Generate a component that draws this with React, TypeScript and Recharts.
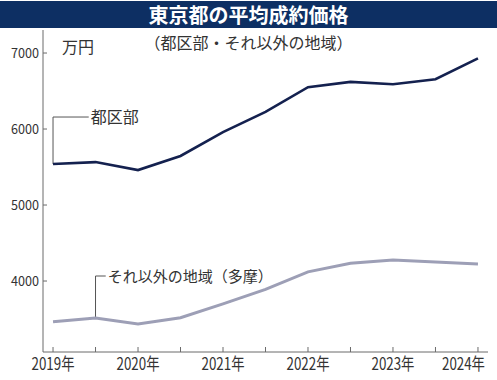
import React from 'react';
import { LineChart, Line, XAxis, YAxis, ReferenceLine, ReferenceDot } from 'recharts';

const periods = [2019, 2019.5, 2020, 2020.5, 2021, 2021.5, 2022, 2022.5, 2023, 2023.5, 2024];
const wardValues = [5540, 5565, 5460, 5645, 5960, 6225, 6550, 6620, 6590, 6655, 6930];
const otherValues = [3465, 3513, 3434, 3517, 3700, 3890, 4120, 4233, 4276, 4250, 4224];
const xTicks = [2019, 2019.5, 2020, 2020.5, 2021, 2021.5, 2022, 2022.5, 2023, 2023.5, 2024];
const yTicks = [4000, 5000, 6000, 7000];
const title = '東京都の平均成約価格';
const subtitle = '（都区部・それ以外の地域）';
const unitLabel = '万円';
const wardLabel = '都区部';
const otherLabel = 'それ以外の地域（多摩）';

const data = periods.map((p, i) => ({ period: p, ward: wardValues[i], other: otherValues[i] }));

const FONT = '"Noto Sans CJK JP", "Noto Sans", sans-serif';
const AXIS = '#6b6b6b';
const NAVY = '#14214f';
const LAVENDER = '#9d9fb6';

const XTick = (props: any) => {
  const { x, y, payload } = props;
  const v = payload.value as number;
  const isYear = Number.isInteger(v);
  const last = v === 2024;
  return (
    <g>
      <line x1={x} x2={x} y1={y} y2={y - 5} stroke={AXIS} strokeWidth={1} />
      {isYear && (
        <text
          x={last ? x + 7 : x}
          y={y + 18}
          textAnchor={last ? 'end' : 'middle'}
          fontSize={17}
          fontFamily={FONT}
          fill="#333"
          textLength={43}
          lengthAdjust="spacingAndGlyphs"
        >
          {`${v}年`}
        </text>
      )}
    </g>
  );
};

const YTick = (props: any) => {
  const { x, y, payload } = props;
  return (
    <g>
      <line x1={x} x2={x + 4} y1={y} y2={y} stroke={AXIS} strokeWidth={1} />
      <text
        x={x - 4}
        y={y + 5}
        textAnchor="end"
        fontSize={14}
        fontFamily={FONT}
        fill="#333"
        textLength={28}
        lengthAdjust="spacingAndGlyphs"
      >
        {payload.value}
      </text>
    </g>
  );
};

const labelShape = (text: string, size: number, dy: number) => (p: any) => (
  <text x={p.cx + 2} y={p.cy + dy} fontSize={size} fontFamily={FONT} fill="#333">
    {text}
  </text>
);

export default function App() {
  return (
    <div style={{ position: 'absolute', left: 0, top: 0, width: 497, height: 380, background: '#fff', overflow: 'hidden' }}>
      <div
        style={{
          position: 'absolute',
          left: 0,
          top: 1,
          width: 497,
          height: 27,
          background: '#0d2f63',
          color: '#fff',
          fontFamily: FONT,
          fontWeight: 700,
          fontSize: 20,
          lineHeight: '27px',
          textAlign: 'center',
        }}
      >
        {title}
      </div>
      <div
        style={{
          position: 'absolute',
          left: 0,
          top: 32,
          width: 497,
          textAlign: 'center',
          fontFamily: FONT,
          fontSize: 16,
          lineHeight: '20px',
          color: '#333',
        }}
      >
        {subtitle}
      </div>
      <div
        style={{
          position: 'absolute',
          left: 62,
          top: 36,
          fontFamily: FONT,
          fontSize: 16,
          lineHeight: '20px',
          color: '#333',
        }}
      >
        {unitLabel}
      </div>
      <div style={{ position: 'absolute', left: 0, top: 0 }}>
        <LineChart width={497} height={380} data={data} margin={{ top: 30, right: 9, bottom: 0, left: 0 }}>
          <XAxis
            dataKey="period"
            type="number"
            domain={[2018.882, 2024.118]}
            ticks={xTicks}
            interval={0}
            allowDataOverflow
            tickSize={0}
            tickMargin={0}
            tickLine={false}
            axisLine={{ stroke: AXIS, strokeWidth: 1 }}
            tick={<XTick />}
            height={28}
          />
          <YAxis
            type="number"
            domain={[3066, 7303]}
            ticks={yTicks}
            interval={0}
            allowDataOverflow
            width={43}
            tickSize={0}
            tickMargin={0}
            tickLine={false}
            axisLine={{ stroke: AXIS, strokeWidth: 1 }}
            tick={<YTick />}
          />
          <ReferenceLine
            segment={[{ x: 2019, y: 5540 }, { x: 2019, y: 6158 }]}
            stroke="#555"
            strokeWidth={1}
          />
          <ReferenceLine
            segment={[{ x: 2019, y: 6158 }, { x: 2019.42, y: 6158 }]}
            stroke="#555"
            strokeWidth={1}
          />
          <ReferenceLine
            segment={[{ x: 2019.5, y: 3513 }, { x: 2019.5, y: 4066 }]}
            stroke="#555"
            strokeWidth={1}
          />
          <ReferenceLine
            segment={[{ x: 2019.5, y: 4066 }, { x: 2019.62, y: 4066 }]}
            stroke="#555"
            strokeWidth={1}
          />
          <ReferenceDot x={2019.42} y={6158} r={0} shape={labelShape(wardLabel, 16, 6)} />
          <ReferenceDot x={2019.62} y={4066} r={0} shape={labelShape(otherLabel, 15, 6)} />
          <Line
            type="linear"
            dataKey="ward"
            stroke={NAVY}
            strokeWidth={2.6}
            dot={false}
            isAnimationActive={false}
          />
          <Line
            type="linear"
            dataKey="other"
            stroke={LAVENDER}
            strokeWidth={3}
            dot={false}
            isAnimationActive={false}
          />
        </LineChart>
      </div>
    </div>
  );
}
